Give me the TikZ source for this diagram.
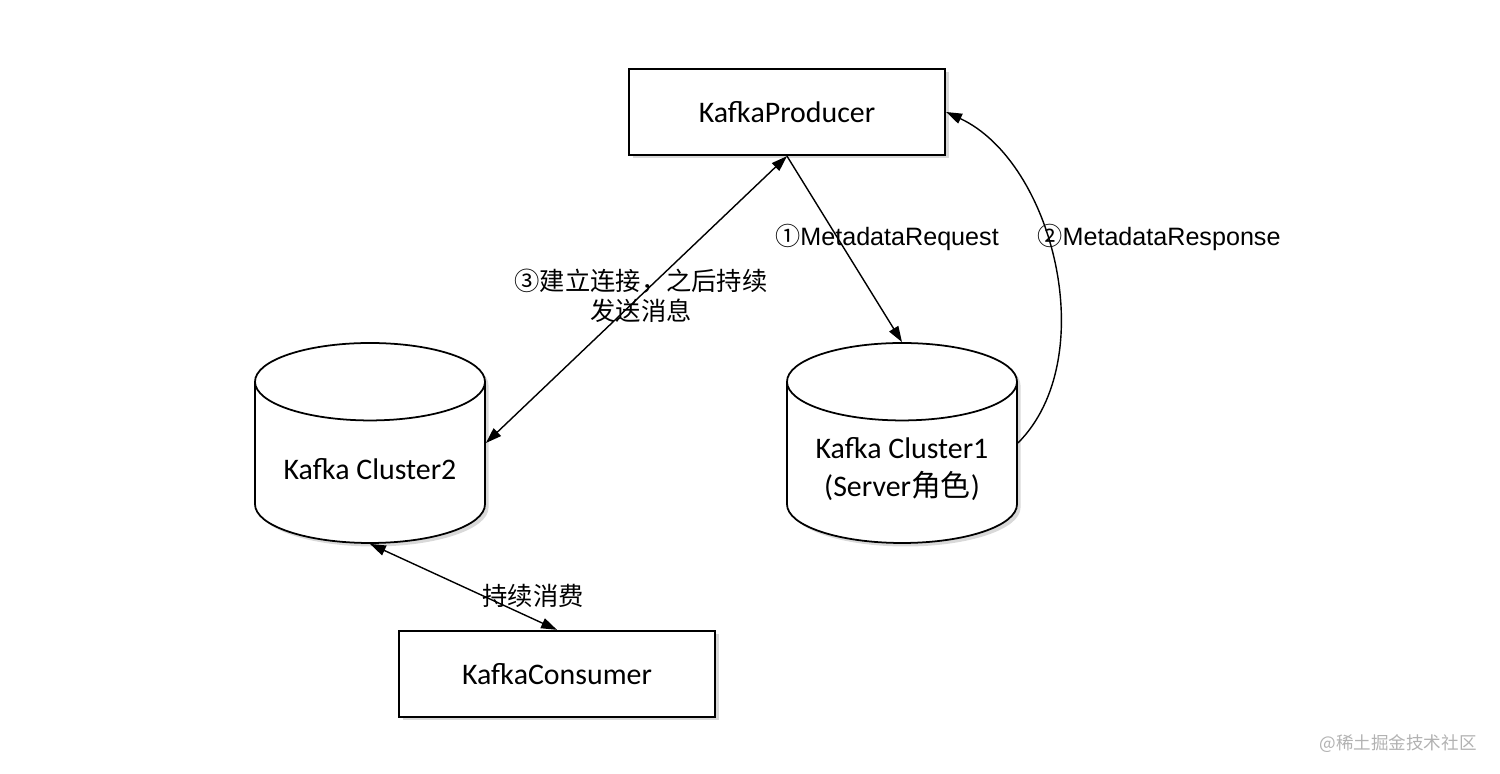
\documentclass[tikz,border=0pt]{standalone}
\usepackage{fontspec}
\setmainfont{Carlito}
\newfontfamily\labelfont{Liberation Sans}
\newfontfamily\cjk{Noto Sans CJK SC}
\usetikzlibrary{arrows.meta,shapes.geometric,shadows}
\tikzset{box/.style={draw,line width=1.3pt,fill=white,minimum width=6.32cm,minimum height=1.72cm,
    font=\fontsize{17}{21}\selectfont,drop shadow={opacity=0.3,shadow xshift=0.07cm,shadow yshift=-0.07cm}}}
\tikzset{store/.style={cylinder,shape border rotate=90,aspect=0.42,draw,line width=1pt,fill=white,
    minimum width=4.6cm,minimum height=4cm,align=center,font=\fontsize{17}{21.6}\selectfont,
    anchor=shape center,drop shadow={opacity=0.3,shadow xshift=0.07cm,shadow yshift=-0.07cm}}}
\tikzset{link/.style={line width=0.8pt}}
\tikzset{note/.style={font=\labelfont\fontsize{14.3}{17}\selectfont,align=center}}
\tikzset{cnote/.style={font=\cjk\fontsize{14.4}{17}\selectfont,align=center}}

\begin{document}
\begin{tikzpicture}[>={Triangle[length=9pt,width=6pt]}]
    \useasboundingbox (0,0) rectangle (30,15.48);
    \node [box] (producer) at (15.74,13.24) {KafkaProducer};
    \node [box] (consumer) at (11.14,2.0) {KafkaConsumer};
    \node [store] (cluster2) at (7.4,6.62) {Kafka Cluster2};
    \node [store] (cluster1) at (18.04,6.62) {Kafka Cluster1\\(Server{\cjk 角色})};
    % connections
    \draw [link,<->] (producer.south) -- (cluster2.shape center -| cluster2.east);
    \draw [link,->] (producer.south) -- (cluster1.north);
    \draw [link,->] (cluster1.shape center -| cluster1.east) to [out=45,in=-25,looseness=0.9] (producer.east);
    \draw [link,<->] (cluster2.south) -- (consumer.north);
    % labels
    \node [note] (request) at (17.74,10.74) {{\cjk ①}MetadataRequest};
    \node [note] (response) at (23.18,10.74) {{\cjk ②}MetadataResponse};
    \node [cnote] (connect) at (12.82,9.56) {③建立连接，之后持续\\发送消息};
    \node [cnote] (consume) at (10.66,3.56) {持续消费};
    \node [font=\cjk\fontsize{10}{12}\selectfont,text=gray!60] (watermark) at (27.96,0.6) {@稀土掘金技术社区};
\end{tikzpicture}
\end{document}
